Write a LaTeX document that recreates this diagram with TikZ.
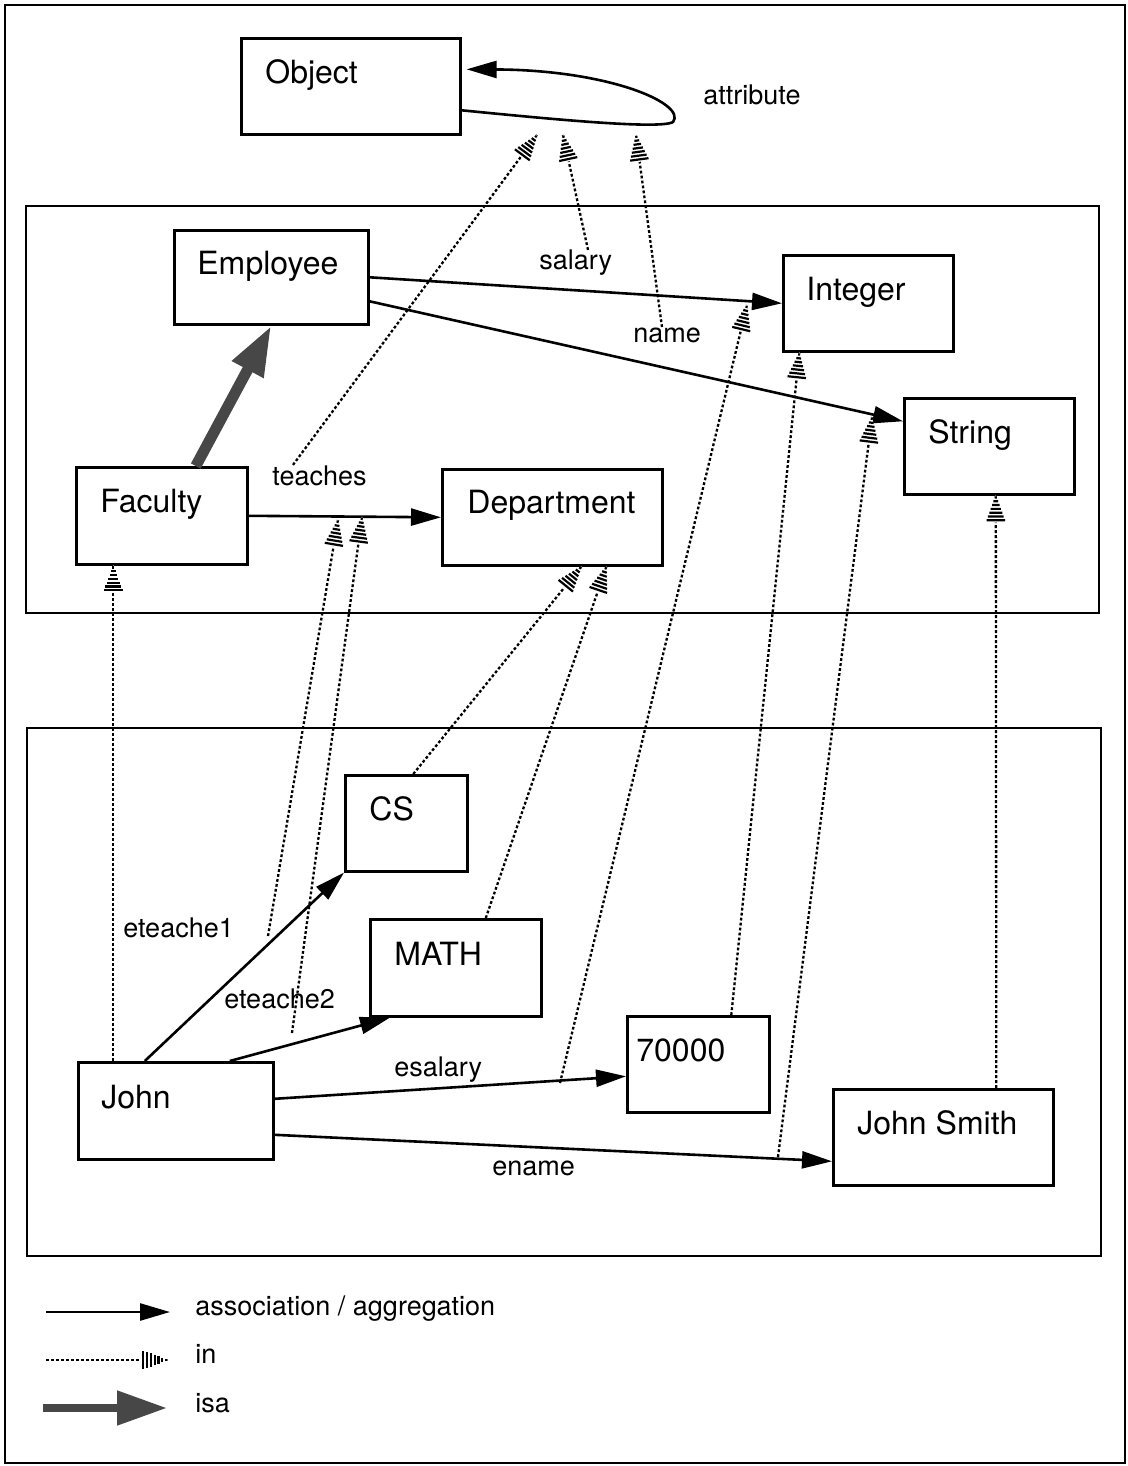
\documentclass[tikz,border=0pt]{standalone}
\usepackage{fontspec}
\setmainfont{TeX Gyre Heros}
\usetikzlibrary{arrows.meta,calc,decorations.markings}

% striped "in" arrow head, drawn in the local frame of the path end
\newcommand\inheadtip{%
  \fill[white] (0.3pt,0pt) -- (-13.5pt,4.8pt) -- (-13.5pt,-4.8pt) -- cycle;
  \foreach \d in {0.9,2.8,4.7,6.6,8.5,10.4,12.3}{%
    \draw[solid, line width=1.1pt, line cap=butt]
      ({-\d*1pt},{\d*0.36pt+0.2pt}) -- ({-\d*1pt},{-\d*0.36pt-0.2pt});
  }%
}

\begin{document}
\begin{tikzpicture}[x=0.5pt,y=-0.5pt,
  box/.style={draw, line width=1.3pt, rectangle, anchor=north west, inner sep=0pt},
  boxtext/.style={anchor=base west, inner sep=0pt, font=\fontsize{16}{19}\selectfont},
  lbl/.style={anchor=base west, inner sep=0pt, font=\fontsize{13.5}{16}\selectfont},
  pkgframe/.style={draw, line width=1.3pt},
  assoc/.style={line width=1.3pt, -{Triangle[length=15pt,width=8.5pt]}},
  isa/.style={line width=5.5pt, draw=black!72, -{Triangle[length=25pt,width=16.5pt]}},
  inlink/.style={line width=1.15pt, dash pattern=on 1.4pt off 1.1pt,
    postaction={decorate, decoration={markings,
      mark=at position 0.9999 with {\inheadtip}}}},
]
\useasboundingbox (0,0) rectangle (1128,1466);

% outer border and the two levels
\draw[line width=1.1pt] (5,5) rectangle (1125,1463);
\draw[pkgframe] (26,206) rectangle (1099,613);
\draw[pkgframe] (27,728) rectangle (1101,1256);

% ---- boxes ----
\node[box, minimum width=109.5pt, minimum height=48pt] (object) at (240,37) {};
\node[boxtext] (objectT) at ($(object.north west)+(25,47)$) {Object};

\node[box, minimum width=97pt, minimum height=47pt] (employee) at (173,229) {};
\node[boxtext] (employeeT) at ($(employee.north west)+(24,46)$) {Employee};

\node[box, minimum width=85pt, minimum height=48pt] (integer) at (782,254) {};
\node[boxtext] (integerT) at ($(integer.north west)+(24,46)$) {Integer};

\node[box, minimum width=85pt, minimum height=48pt] (string) at (903,397) {};
\node[boxtext] (stringT) at ($(string.north west)+(25,46)$) {String};

\node[box, minimum width=85.5pt, minimum height=48.5pt] (faculty) at (75,466) {};
\node[boxtext] (facultyT) at ($(faculty.north west)+(25,46)$) {Faculty};

\node[box, minimum width=110pt, minimum height=48pt] (department) at (441,468) {};
\node[boxtext] (departmentT) at ($(department.north west)+(26,45)$) {Department};

\node[box, minimum width=61pt, minimum height=48pt] (cs) at (344,774) {};
\node[boxtext] (csT) at ($(cs.north west)+(25,46)$) {CS};

\node[box, minimum width=85.5pt, minimum height=48.5pt] (math) at (369,918) {};
\node[boxtext] (mathT) at ($(math.north west)+(25,47)$) {MATH};

\node[box, minimum width=71pt, minimum height=48pt] (n70000) at (626,1015) {};
\node[boxtext] (n70000T) at ($(n70000.north west)+(10,46)$) {70000};

\node[box, minimum width=97.5pt, minimum height=48.5pt] (john) at (77,1061) {};
\node[boxtext] (johnT) at ($(john.north west)+(24,47)$) {John};

\node[box, minimum width=110pt, minimum height=48pt] (jsmith) at (832,1088) {};
\node[boxtext] (jsmithT) at ($(jsmith.north west)+(25,46)$) {John Smith};

% ---- labels ----
\node[lbl] (attributeL) at (703,105) {attribute};
\node[lbl] (salaryL) at (539,270) {salary};
\node[lbl] (nameL) at (633,342) {name};
\node[lbl] (teachesL) at (272,485) {teaches};
\node[lbl] (eteache1L) at (123,937) {eteache1};
\node[lbl] (eteache2L) at (224,1008) {eteache2};
\node[lbl] (esalaryL) at (394,1076) {esalary};
\node[lbl] (enameL) at (492,1175) {ename};

% points on links where "in" connectors start or end
\coordinate (attrTurn) at (673,122);
\coordinate (attrIn1) at (537,135);
\coordinate (attrIn2) at (563,135);
\coordinate (attrIn3) at (636,135);
\coordinate (teachIn1) at (338,520);
\coordinate (teachIn2) at (362,517);
\coordinate (salaryIn) at (747,305);
\coordinate (nameIn) at (872,417);
\coordinate (eteachOne) at (268,936);
\coordinate (eteachTwo) at (292,1033);
\coordinate (esalaryPt) at (560,1083);
\coordinate (enamePt) at (778,1157);

% ---- association / aggregation ----
\draw[assoc, shorten >=2.5pt] ([yshift=-12pt]object.east)
  .. controls (540,118) and (660,130) .. (attrTurn)
  .. controls (687,104) and (610,70) .. ([yshift=8.5pt]object.east);
\draw[assoc] (employee.east) -- (integer.west);
\draw[assoc] ([yshift=-12pt]employee.east) -- ([yshift=12.5pt]string.west);
\draw[assoc] (faculty.east) -- (department.west);
\draw[assoc] ([xshift=-15.5pt]john.north) -- (cs.south west);
\draw[assoc] ([xshift=27pt]john.north) -- ([xshift=10.5pt]math.south west);
\draw[assoc] ([yshift=6pt]john.east) -- ([yshift=-6pt]n70000.west);
\draw[assoc] ([yshift=-12pt]john.east) -- ([yshift=-12pt]jsmith.west);

% ---- isa ----
\draw[isa] ([xshift=17pt]faculty.north) -- (employee.south);

% ---- in ----
\draw[inlink] ([xshift=10.5pt]teachesL.north west) -- (attrIn1);
\draw[inlink] ([xshift=24.5pt]salaryL.north west) -- (attrIn2);
\draw[inlink] ([xshift=14.5pt]nameL.north west) -- (attrIn3);
\draw[inlink] ([xshift=-31.25pt]john.north) -- ([xshift=-24.25pt]faculty.south);
\draw[inlink] (eteachOne) -- (teachIn1);
\draw[inlink] (eteachTwo) -- (teachIn2);
\draw[inlink] ([xshift=3.5pt]cs.north) -- ([xshift=14.5pt]department.south);
\draw[inlink] ([xshift=15pt]math.north) -- ([xshift=27pt]department.south);
\draw[inlink] (esalaryPt) -- (salaryIn);
\draw[inlink] ([xshift=16.5pt]n70000.north) -- ([xshift=-34.5pt]integer.south);
\draw[inlink] (enamePt) -- (nameIn);
\draw[inlink] ([xshift=26.5pt]jsmith.north) -- ([xshift=3.25pt]string.south);

% ---- legend ----
\coordinate (legAssocA) at (46,1312);
\coordinate (legAssocB) at (170,1312);
\coordinate (legInA) at (46,1360);
\coordinate (legInB) at (168,1360);
\coordinate (legIsaA) at (43,1408);
\coordinate (legIsaB) at (167,1408);
\draw[assoc] (legAssocA) -- (legAssocB);
\draw[inlink] (legInA) -- (legInB);
\draw[isa, line width=4pt] (legIsaA) -- (legIsaB);
\node[lbl] (legAssocT) at (195,1315) {association / aggregation};
\node[lbl] (legInT) at (195,1363) {in};
\node[lbl] (legIsaT) at (195,1412) {isa};
\end{tikzpicture}
\end{document}
